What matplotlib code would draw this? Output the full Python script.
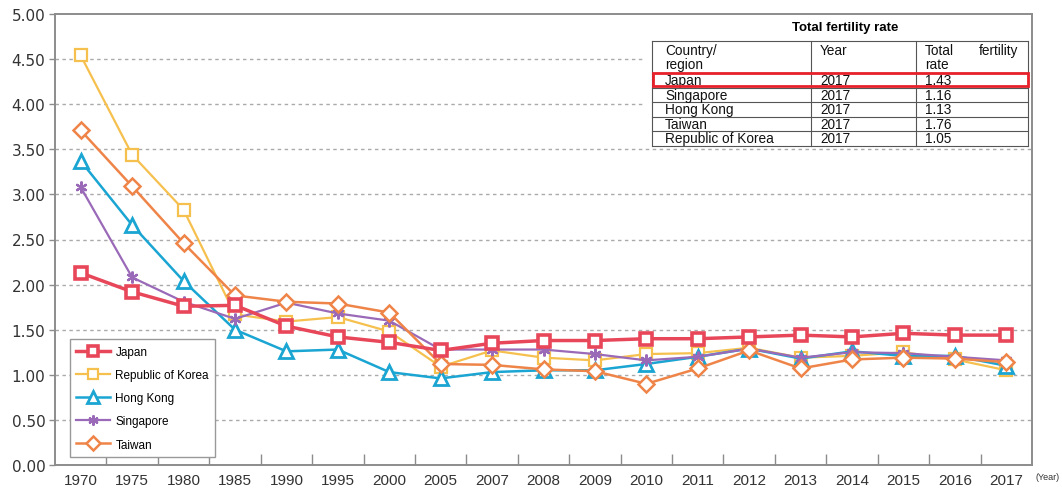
import matplotlib
matplotlib.use("Agg")
import matplotlib.pyplot as plt
from matplotlib.lines import Line2D
from matplotlib.patches import Rectangle
import numpy as np

years = ["1970", "1975", "1980", "1985", "1990", "1995", "2000", "2005", "2007", "2008",
         "2009", "2010", "2011", "2012", "2013", "2014", "2015", "2016", "2017"]

japan = [2.13, 1.92, 1.76, 1.77, 1.54, 1.42, 1.36, 1.27, 1.35, 1.38,
         1.38, 1.40, 1.40, 1.42, 1.44, 1.42, 1.46, 1.44, 1.44]
korea = [4.54, 3.44, 2.83, 1.67, 1.59, 1.64, 1.48, 1.09, 1.27, 1.19,
         1.16, 1.23, 1.24, 1.30, 1.19, 1.21, 1.25, 1.17, 1.05]
hong_kong = [3.37, 2.66, 2.04, 1.50, 1.26, 1.28, 1.03, 0.96, 1.03, 1.05,
             1.05, 1.12, 1.20, 1.29, 1.18, 1.26, 1.21, 1.21, 1.10]
singapore = [3.08, 2.08, 1.81, 1.62, 1.80, 1.68, 1.60, 1.28, 1.28, 1.28,
             1.23, 1.16, 1.20, 1.29, 1.19, 1.25, 1.24, 1.20, 1.16]
taiwan = [3.71, 3.09, 2.46, 1.88, 1.81, 1.79, 1.69, 1.12, 1.11, 1.06,
          1.04, 0.90, 1.07, 1.27, 1.07, 1.17, 1.19, 1.18, 1.14]

yticks = [0.0, 0.5, 1.0, 1.5, 2.0, 2.5, 3.0, 3.5, 4.0, 4.5, 5.0]

table_title = "Total fertility rate"
table_regions = ["Japan", "Singapore", "Hong Kong", "Taiwan", "Republic of Korea"]
table_years = ["2017", "2017", "2017", "2017", "2017"]
table_rates = ["1.43", "1.16", "1.13", "1.76", "1.05"]

W, H = 1062, 489
fig = plt.figure(figsize=(W / 100, H / 100), dpi=100)
ax = fig.add_axes([55 / W, 1 - 466 / H, (1032 - 55) / W, (466 - 15) / H])

FONT = "Liberation Sans"
grey = "#8c8c8c"

x = np.arange(len(years))
styles = [
    ("Republic of Korea", korea, "#f6c04f", "s", 8.5, 1.6, 1.6, 2),
    ("Hong Kong", hong_kong, "#1aa5d2", "^", 10, 2.0, 1.8, 3),
    ("Singapore", singapore, "#9a6ab8", (6, 2, 0), 8.5, 1.6, 1.6, 4),
    ("Taiwan", taiwan, "#ef8448", "D", 8.5, 1.8, 1.8, 5),
    ("Japan", japan, "#e8475a", "s", 9, 2.6, 2.5, 6),
]
handles = {}
for name, vals, col, mk, ms, mew, lw, z in styles:
    fc = "white" if mk != (6, 2, 0) else col
    (ln,) = ax.plot(x, vals, color=col, lw=lw, marker=mk, ms=ms, mfc=fc,
                    mec=col, mew=mew, zorder=z, clip_on=False)
    handles[name] = ln

ax.set_xlim(-0.5, len(years) - 0.5)
ax.set_ylim(0, 5)
ax.set_yticks(yticks)
ax.set_yticklabels([f"{v:.2f}" for v in yticks], fontsize=11, color="#333333",
                   family="DejaVu Sans")
ax.set_xticks(x)
ax.set_xticklabels(years, fontsize=11, color="#333333", family=FONT)
ax.tick_params(axis="x", length=0, pad=6)
ax.set_xticks(np.arange(0.5, len(years) - 0.5, 1.0), minor=True)
ax.tick_params(axis="x", which="minor", direction="in", length=8, color=grey, width=1)
ax.tick_params(axis="y", length=4, color=grey, width=1, pad=3)

for v in yticks[1:-1]:
    ax.axhline(v, color="#aaaaaa", lw=1, ls=(0, (2.5, 2.5)), zorder=0)

for s in ax.spines.values():
    s.set_color(grey)
    s.set_linewidth(1.4)

fig.text(1036 / W, 1 - 478 / H, "(Year)", fontsize=6.5, family=FONT, color="#333333",
         ha="left", va="center")

# Legend
order = ["Japan", "Republic of Korea", "Hong Kong", "Singapore", "Taiwan"]
leg = ax.legend([handles[n] for n in order], order, loc="lower left",
                bbox_to_anchor=(15 / 977, 8 / 451), borderaxespad=0,
                prop={"family": FONT, "size": 8.5},
                frameon=True, fancybox=False, edgecolor="#999999", framealpha=1,
                handlelength=2.8, handletextpad=0.5, labelspacing=0.95,
                borderpad=0.55, markerscale=0.85)
leg.set_zorder(10)
leg.get_frame().set_linewidth(1.0)

# Table (figure pixel coordinates)
def fx(px):
    return px / W

def fy(py):
    return 1 - py / H

tf = fig.transFigure
fig.patches.append(Rectangle((fx(645), fy(147)), fx(1031) - fx(645), fy(16) - fy(147),
                             transform=tf, facecolor="white", edgecolor="none", zorder=8))
fig.text(fx(845), fy(28), table_title, fontsize=9.5, fontweight="bold", family=FONT,
         ha="center", va="center", zorder=9)

tl, c2, c3, tr = 652, 811, 916, 1028
row_y = [42, 74, 88.5, 103, 117.5, 132, 146.5]
for yy in row_y:
    fig.add_artist(Line2D([fx(tl), fx(tr)], [fy(yy), fy(yy)], transform=tf,
                          color="#555555", lw=0.8, zorder=9))
for xx in (tl, c2, c3, tr):
    fig.add_artist(Line2D([fx(xx), fx(xx)], [fy(row_y[0]), fy(row_y[-1])], transform=tf,
                          color="#555555", lw=0.8, zorder=9))

tkw = dict(fontsize=9.8, family=FONT, color="#111111", va="center", zorder=9)
fig.text(fx(665), fy(51), "Country/", **tkw)
fig.text(fx(665), fy(65), "region", **tkw)
fig.text(fx(820), fy(51), "Year", **tkw)
fig.text(fx(925), fy(51), "Total", **tkw)
fig.text(fx(1018), fy(51), "fertility", ha="right", **tkw)
fig.text(fx(925), fy(65), "rate", **tkw)
for i, (r, yv, rt) in enumerate(zip(table_regions, table_years, table_rates)):
    yc = (row_y[i + 1] + row_y[i + 2]) / 2
    fig.text(fx(665), fy(yc), r, **tkw)
    fig.text(fx(820), fy(yc), yv, **tkw)
    fig.text(fx(925), fy(yc), rt, **tkw)

fig.patches.append(Rectangle((fx(653), fy(87)), fx(1028) - fx(653), fy(73.5) - fy(87),
                             transform=tf, facecolor="none", edgecolor="#e8202a", lw=2,
                             zorder=10))

fig.savefig("out.png", dpi=100)
